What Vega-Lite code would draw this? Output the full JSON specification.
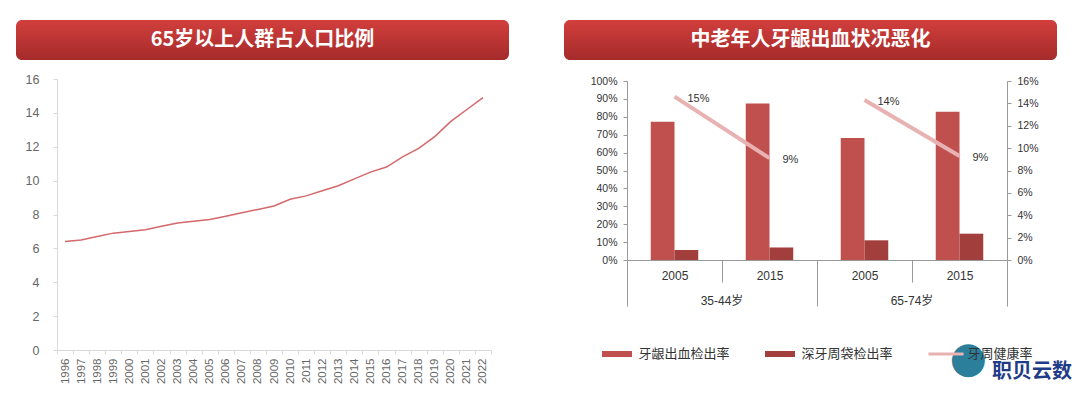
{
  "$schema": "https://vega.github.io/schema/vega-lite/v6.json",
  "background": "white",
  "padding": {"left": 10, "top": 20, "right": 0, "bottom": 0},
  "autosize": {"type": "pad"},
  "config": {
    "view": {"stroke": null},
    "font": "Liberation Sans, Noto Sans CJK SC, sans-serif",
    "axis": {"grid": false, "title": null}
  },
  "title": {"text": "职贝云数", "orient": "bottom", "anchor": "end", "frame": "bounds", "font": "Noto Sans CJK SC", "fontSize": 20, "fontWeight": "bold", "color": "#1f3c88", "offset": -22, "dx": 15},
  "spacing": 55,
  "hconcat": [
    {
      "spacing": 13,
      "vconcat": [
        {
          "width": 493,
          "height": 40,
          "data": {"values": [{"t": "65岁以上人群占人口比例"}]},
          "layer": [
            {"mark": {"type": "rect", "cornerRadius": 6, "fill": {"gradient": "linear", "x1": 0, "y1": 0, "x2": 0, "y2": 1, "stops": [{"offset": 0, "color": "#d13f3c"}, {"offset": 1, "color": "#a52b2b"}]}}, "encoding": {}},
            {"mark": {"type": "text", "color": "white", "fontSize": 20, "fontWeight": "bold", "font": "Noto Sans CJK SC"}, "encoding": {"text": {"field": "t"}}}
          ]
        },
        {
          "width": 493,
          "height": 271,
          "data": {"values": [
            {"year": "1996", "v": 6.4}, {"year": "1997", "v": 6.5}, {"year": "1998", "v": 6.7}, {"year": "1999", "v": 6.9},
            {"year": "2000", "v": 7.0}, {"year": "2001", "v": 7.1}, {"year": "2002", "v": 7.3}, {"year": "2003", "v": 7.5},
            {"year": "2004", "v": 7.6}, {"year": "2005", "v": 7.7}, {"year": "2006", "v": 7.9}, {"year": "2007", "v": 8.1},
            {"year": "2008", "v": 8.3}, {"year": "2009", "v": 8.5}, {"year": "2010", "v": 8.9}, {"year": "2011", "v": 9.1},
            {"year": "2012", "v": 9.4}, {"year": "2013", "v": 9.7}, {"year": "2014", "v": 10.1}, {"year": "2015", "v": 10.5},
            {"year": "2016", "v": 10.8}, {"year": "2017", "v": 11.4}, {"year": "2018", "v": 11.9}, {"year": "2019", "v": 12.6},
            {"year": "2020", "v": 13.5}, {"year": "2021", "v": 14.2}, {"year": "2022", "v": 14.9}
          ]},
          "mark": {"type": "line", "color": "#d4686a", "strokeWidth": 1.5},
          "encoding": {
            "x": {"field": "year", "type": "ordinal", "bandPosition": 0.5,
              "scale": {"type": "band", "paddingInner": 0, "paddingOuter": 0, "range": [41, 475]},
              "axis": {"tickBand": "extent", "labelAngle": -90, "labelFontSize": 11.5, "labelColor": "#666666", "labelPadding": 4, "tickSize": 4, "tickColor": "#d9d9d9", "domainColor": "#d9d9d9"}},
            "y": {"field": "v", "type": "quantitative", "scale": {"domain": [0, 16], "nice": false},
              "axis": {"offset": -41, "values": [0, 2, 4, 6, 8, 10, 12, 14, 16], "tickSize": 4, "tickColor": "#d9d9d9", "domainColor": "#d9d9d9", "labelColor": "#666666", "labelFontSize": 12.5, "labelPadding": 14}}
          }
        }
      ]
    },
    {
      "spacing": 16,
      "title": {"text": "●", "orient": "bottom", "anchor": "end", "frame": "bounds", "font": "DejaVu Sans", "fontSize": 43, "color": "#2b7f9a", "offset": 31, "dx": -70},
      "vconcat": [
        {
          "width": 493,
          "height": 40,
          "data": {"values": [{"t": "中老年人牙龈出血状况恶化"}]},
          "layer": [
            {"mark": {"type": "rect", "cornerRadius": 6, "fill": {"gradient": "linear", "x1": 0, "y1": 0, "x2": 0, "y2": 1, "stops": [{"offset": 0, "color": "#d13f3c"}, {"offset": 1, "color": "#a52b2b"}]}}, "encoding": {}},
            {"mark": {"type": "text", "color": "white", "fontSize": 20, "fontWeight": "bold", "font": "Noto Sans CJK SC"}, "encoding": {"text": {"field": "t"}}}
          ]
        },
        {
          "width": 493,
          "height": 179,
          "resolve": {"scale": {"y": "independent"}, "axis": {"x": "independent", "y": "independent"}},
          "layer": [
            {
              "data": {"values": [
                {"cat": "A2005", "series": "牙龈出血检出率", "v": 0.773},
                {"cat": "A2005", "series": "深牙周袋检出率", "v": 0.056},
                {"cat": "A2015", "series": "牙龈出血检出率", "v": 0.875},
                {"cat": "A2015", "series": "深牙周袋检出率", "v": 0.07},
                {"cat": "B2005", "series": "牙龈出血检出率", "v": 0.682},
                {"cat": "B2005", "series": "深牙周袋检出率", "v": 0.11},
                {"cat": "B2015", "series": "牙龈出血检出率", "v": 0.828},
                {"cat": "B2015", "series": "深牙周袋检出率", "v": 0.147}
              ]},
              "mark": {"type": "bar"},
              "encoding": {
                "x": {"field": "cat", "type": "nominal", "sort": ["A2005", "A2015", "B2005", "B2015"],
                  "scale": {"type": "band", "paddingInner": 0, "paddingOuter": 0, "range": [63, 443]},
                  "axis": {"orient": "bottom", "tickBand": "extent", "labelExpr": "substring(datum.label, 1)", "labelAngle": 0, "labelFontSize": 12, "labelColor": "#333333",
                    "labelPadding": {"condition": {"test": "!datum.value || datum.value === 'A2015' || datum.value === 'B2015'", "value": -36}, "value": -12},
                    "tickSize": {"condition": {"test": "!datum.value || datum.value === 'A2015' || datum.value === 'B2015'", "value": 46}, "value": 22},
                    "tickColor": "#999999", "domainColor": "#999999"}},
                "xOffset": {"field": "series", "type": "nominal", "sort": ["牙龈出血检出率", "深牙周袋检出率"], "scale": {"paddingInner": 0, "paddingOuter": 1.11}},
                "y": {"field": "v", "type": "quantitative", "scale": {"domain": [0, 1], "nice": false},
                  "axis": {"orient": "left", "offset": -63, "values": [0, 0.1, 0.2, 0.3, 0.4, 0.5, 0.6, 0.7, 0.8, 0.9, 1], "format": ".0%", "tickSize": 4, "tickColor": "#999999", "domainColor": "#999999", "labelColor": "#333333", "labelFontSize": 10.5, "labelPadding": 6}},
                "color": {"field": "series", "type": "nominal",
                  "scale": {"domain": ["牙龈出血检出率", "深牙周袋检出率", "牙周健康率"], "range": ["#c0504d", "#a23f3d", "#e8b2b2"]},
                  "legend": {"orient": "none", "legendX": 586, "legendY": 319, "direction": "horizontal", "title": null, "padding": 0,
                    "symbolType": "M-1,-0.2H1V0.2H-1Z", "symbolSize": 900, "symbolStrokeWidth": 0, "symbolOpacity": 1,
                    "labelFontSize": 13, "labelColor": "#333333", "labelFont": "Noto Sans CJK SC", "labelOffset": 6.5, "columnPadding": 35, "labelLimit": 300,
                    "encode": {"symbols": {"update": {"shape": {"signal": "datum.value === '牙周健康率' ? 'M-1.17,-0.1H1.17V0.1H-1.17Z' : 'M-1,-0.2H1V0.2H-1Z'"}}}}}}
              }
            },
            {
              "data": {"values": [
                {"cat": "A2005", "group": "35-44岁", "h": 0.146, "label": "15%"},
                {"cat": "A2015", "group": "35-44岁", "h": 0.091, "label": "9%"},
                {"cat": "B2005", "group": "65-74岁", "h": 0.143, "label": "14%"},
                {"cat": "B2015", "group": "65-74岁", "h": 0.093, "label": "9%"}
              ]},
              "encoding": {
                "x": {"field": "cat", "type": "nominal", "sort": ["A2005", "A2015", "B2005", "B2015"], "bandPosition": 0.5,
                  "axis": {"orient": "bottom", "values": ["A2015", "B2015"], "ticks": false, "domain": false, "labelAngle": 0, "labelOffset": -47.5,
                    "labelExpr": "datum.value === 'A2015' ? '35-44岁' : '65-74岁'", "labelFontSize": 12, "labelColor": "#333333", "labelPadding": 35}},
                "y": {"field": "h", "type": "quantitative", "scale": {"domain": [0, 0.16], "nice": false},
                  "axis": {"orient": "right", "offset": -50, "values": [0, 0.02, 0.04, 0.06, 0.08, 0.1, 0.12, 0.14, 0.16], "format": ".0%", "tickSize": 4, "tickColor": "#999999", "domainColor": "#999999", "labelColor": "#333333", "labelFontSize": 10.5, "labelPadding": 6}}
              },
              "layer": [
                {"mark": {"type": "line", "color": "#e8b2b2", "strokeWidth": 4}, "encoding": {"detail": {"field": "group"}}},
                {"mark": {"type": "text", "align": "left", "dx": 13, "dy": 2, "fontSize": 11, "color": "#333333"}, "encoding": {"text": {"field": "label"}}}
              ]
            }
          ]
        }
      ]
    }
  ]
}
